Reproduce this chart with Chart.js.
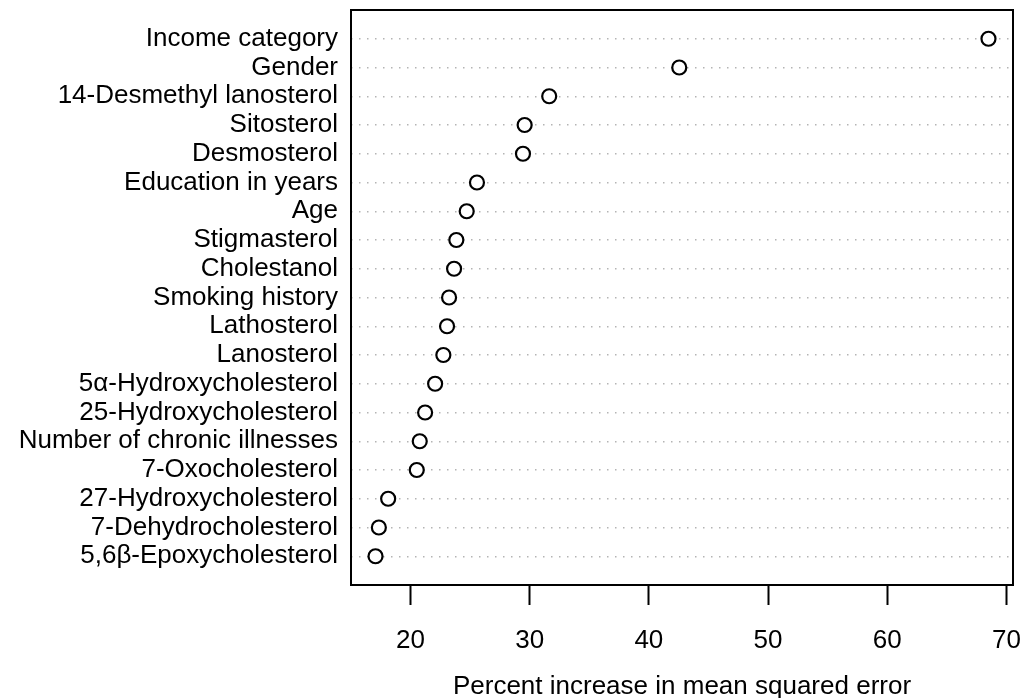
<!DOCTYPE html>
<html>
<head>
<meta charset="utf-8">
<script src="https://cdn.jsdelivr.net/npm/chart.js@4/dist/chart.umd.min.js"></script>
<style>
  html, body { margin: 0; padding: 0; background: #fff; }
  #wrap { width: 1036px; height: 698px; position: relative; }
</style>
</head>
<body>
<div id="wrap"><canvas id="c" width="1036" height="698"></canvas></div>
<script>
// Categories, top to bottom
const categories = [
  "Income category", "Gender", "14-Desmethyl lanosterol", "Sitosterol",
  "Desmosterol", "Education in years", "Age", "Stigmasterol", "Cholestanol",
  "Smoking history", "Lathosterol", "Lanosterol", "5\u03b1-Hydroxycholesterol",
  "25-Hydroxycholesterol", "Number of chronic illnesses", "7-Oxocholesterol",
  "27-Hydroxycholesterol", "7-Dehydrocholesterol", "5,6\u03b2-Epoxycholesterol"
];
// Percent increase in MSE, same order
const values = [
  68.49, 42.55, 31.64, 29.58, 29.44, 25.58, 24.72, 23.85, 23.66,
  23.24, 23.07, 22.76, 22.07, 21.23, 20.78, 20.53, 18.13, 17.35, 17.07
];
const xTicks = [20, 30, 40, 50, 60, 70];
const xTitle = "Percent increase in mean squared error";

const n = categories.length;
const points = values.map((v, i) => ({ x: v, y: n - i }));
const yTickVals = categories.map((c, i) => n - i);

// R-style 4% range extension
const vmin = Math.min(...values), vmax = Math.max(...values);
const ext = (vmax - vmin) * 0.04;

const FONT = "'Liberation Sans', Arial, Helvetica, sans-serif";

const boxPlugin = {
  id: 'box',
  afterDraw(chart) {
    const a = chart.chartArea, ctx = chart.ctx;
    ctx.save();
    ctx.strokeStyle = '#000';
    ctx.lineWidth = 2;
    ctx.strokeRect(a.left, a.top, a.right - a.left, a.bottom - a.top);
    ctx.restore();
  }
};

new Chart(document.getElementById('c'), {
  type: 'scatter',
  data: {
    datasets: [{
      data: points,
      pointStyle: 'circle',
      pointRadius: 7,
      pointBorderWidth: 2.2,
      pointBorderColor: '#000',
      pointBackgroundColor: '#fff',
      showLine: false
    }]
  },
  options: {
    responsive: false,
    animation: false,
    devicePixelRatio: 1,
    layout: { padding: { left: 0, top: 10, right: 23, bottom: 0 } },
    plugins: { legend: { display: false }, tooltip: { enabled: false } },
    scales: {
      x: {
        type: 'linear',
        min: vmin - ext,
        max: vmax + ext,
        afterBuildTicks(scale) { scale.ticks = xTicks.map(v => ({ value: v })); },
        afterFit(scale) { scale.height = 113; scale.paddingLeft = 0; scale.paddingRight = 0; },
        ticks: {
          color: '#000',
          font: { family: FONT, size: 26 },
          padding: 20,
          maxRotation: 0,
          autoSkip: false
        },
        grid: {
          drawOnChartArea: false,
          drawTicks: true,
          tickLength: 20,
          tickWidth: 2,
          tickColor: '#000'
        },
        border: { display: true, color: '#000', width: 2 },
        title: {
          display: true,
          text: xTitle,
          color: '#000',
          font: { family: FONT, size: 26, lineHeight: 1.0 },
          padding: { top: 0, bottom: -2 }
        }
      },
      y: {
        type: 'linear',
        min: 0,
        max: 20,
        afterBuildTicks(scale) { scale.ticks = yTickVals.map(v => ({ value: v })); },
        afterFit(scale) { scale.width = 351; scale.paddingTop = 0; scale.paddingBottom = 0; },
        ticks: {
          color: '#000',
          font: { family: FONT, size: 26 },
          padding: 13,
          autoSkip: false,
          callback(v) { return categories[n - v]; }
        },
        grid: {
          drawOnChartArea: true,
          drawTicks: false,
          color: '#b4b4b4',
          lineWidth: 1.5
        },
        border: { display: false, dash: [1.5, 6.5] }
      }
    }
  },
  plugins: [boxPlugin]
});
</script>
</body>
</html>
